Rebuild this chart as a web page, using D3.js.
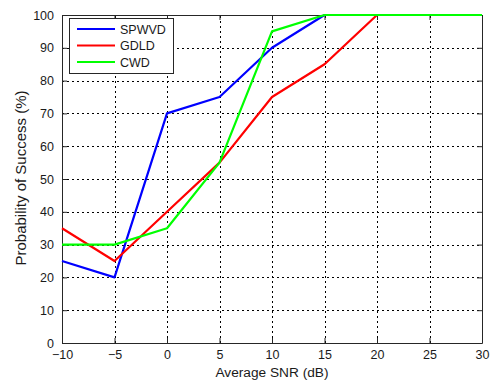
<!DOCTYPE html>
<html>
<head>
<meta charset="utf-8">
<script src="https://cdn.jsdelivr.net/npm/d3@7"></script>
<style>
  body { margin: 0; background: #fff; }
  svg { display: block; font-family: "Liberation Sans", Arial, sans-serif; }
</style>
</head>
<body>
<svg id="chart" width="491" height="383"></svg>
<script>
// SNR sweep (dB) and success rates (%) per method
const snr = [-10, -5, 0, 5, 10, 15, 20, 25, 30];
const spwvd = [25, 20, 70, 75, 90, 100, 100, 100, 100];
const gdld = [35, 25, 40, 55, 75, 85, 100, 100, 100];
const cwd = [30, 30, 35, 55, 95, 100, 100, 100, 100];
const seriesNames = ["SPWVD", "GDLD", "CWD"];
const seriesColors = ["#0000ff", "#ff0000", "#00ff00"];
const xTicks = [-10, -5, 0, 5, 10, 15, 20, 25, 30];
const yTicks = [0, 10, 20, 30, 40, 50, 60, 70, 80, 90, 100];

const svg = d3.select("#chart");
const m = { left: 62, right: 9, top: 15, bottom: 40 };
const W = 491, H = 383;
const x = d3.scaleLinear().domain([-10, 30]).range([m.left, W - m.right]);
const y = d3.scaleLinear().domain([0, 100]).range([H - m.bottom, m.top]);

// dotted grid
const grid = svg.append("g").attr("stroke", "#000").attr("stroke-width", 1)
  .attr("stroke-dasharray", "2,3");
grid.selectAll(".gx").data(xTicks.slice(1, -1)).join("line")
  .attr("x1", d => Math.round(x(d)) + 0.5).attr("x2", d => Math.round(x(d)) + 0.5)
  .attr("y1", y(0)).attr("y2", y(100));
grid.selectAll(".gy").data(yTicks.slice(1, -1)).join("line")
  .attr("y1", d => Math.round(y(d)) + 0.5).attr("y2", d => Math.round(y(d)) + 0.5)
  .attr("x1", x(-10)).attr("x2", x(30));

// axes with inward ticks
const axB = svg.append("g").attr("transform", `translate(0,${y(0)})`)
  .call(d3.axisBottom(x).tickValues(xTicks).tickSizeInner(-5).tickSizeOuter(0).tickPadding(10));
const axL = svg.append("g").attr("transform", `translate(${x(-10)},0)`)
  .call(d3.axisLeft(y).tickValues(yTicks).tickSizeInner(-5).tickSizeOuter(0).tickPadding(8));
const axT = svg.append("g").attr("transform", `translate(0,${y(100)})`)
  .call(d3.axisTop(x).tickValues(xTicks).tickSizeInner(-5).tickSizeOuter(0).tickFormat(""));
const axR = svg.append("g").attr("transform", `translate(${x(30)},0)`)
  .call(d3.axisRight(y).tickValues(yTicks).tickSizeInner(-5).tickSizeOuter(0).tickFormat(""));
[axB, axL, axT, axR].forEach(a => {
  a.selectAll("path, line").attr("stroke", "#262626");
  a.selectAll("text").attr("fill", "#1a1a1a").attr("font-size", 12.5)
    .attr("font-family", "Liberation Sans, Arial, sans-serif");
});
axB.selectAll(".tick text").attr("dy", "0.5em");

// data lines
const line = d3.line().x((d, i) => x(snr[i])).y(d => y(d));
[spwvd, gdld, cwd].forEach((s, k) => {
  svg.append("path").datum(s).attr("d", line)
    .attr("fill", "none").attr("stroke", seriesColors[k]).attr("stroke-width", 2.2)
    .attr("stroke-linejoin", "round");
});

// axis titles
svg.append("text").attr("x", x(10)).attr("y", 377).attr("text-anchor", "middle")
  .attr("font-size", 13.7).attr("fill", "#1a1a1a").text("Average SNR (dB)");
svg.append("text").attr("transform", `translate(26,178) rotate(-90)`)
  .attr("text-anchor", "middle").attr("font-size", 15).attr("fill", "#1a1a1a")
  .text("Probability of Success (%)");

// legend
const lg = svg.append("g").attr("transform", "translate(69,18)");
lg.append("rect").attr("x", 0.5).attr("y", 0.5).attr("width", 104).attr("height", 55)
  .attr("fill", "#fff").attr("stroke", "#262626");
seriesNames.forEach((n, i) => {
  const yy = 11 + i * 16.5;
  lg.append("line").attr("x1", 8).attr("x2", 46).attr("y1", yy).attr("y2", yy)
    .attr("stroke", seriesColors[i]).attr("stroke-width", 2.2);
  lg.append("text").attr("x", 51).attr("y", yy).attr("dy", "0.36em")
    .attr("font-size", 12.5).attr("fill", "#1a1a1a").text(n);
});
</script>
</body>
</html>
